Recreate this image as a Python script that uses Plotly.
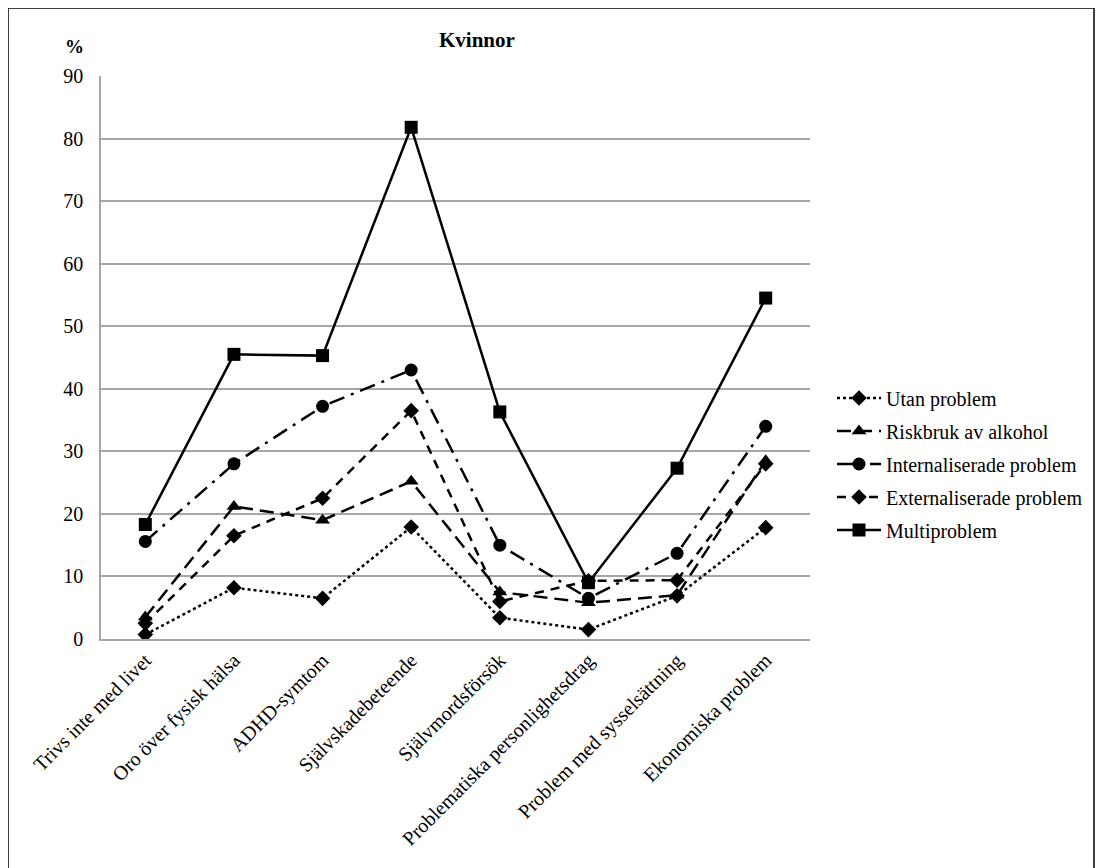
import plotly.graph_objects as go

categories = ["Trivs inte med livet", "Oro över fysisk hälsa", "ADHD-symtom",
              "Självskadebeteende", "Självmordsförsök", "Problematiska personlighetsdrag",
              "Problem med sysselsättning", "Ekonomiska problem"]

utan_problem = [0.7, 8.2, 6.5, 17.9, 3.4, 1.5, 6.9, 17.8]
riskbruk = [3.5, 21.2, 19.0, 25.2, 7.5, 5.8, 7.0, 28.5]
internaliserade = [15.6, 28.0, 37.2, 43.0, 15.0, 6.5, 13.7, 34.0]
externaliserade = [2.5, 16.5, 22.5, 36.5, 6.0, 9.3, 9.4, 28.0]
multiproblem = [18.3, 45.5, 45.3, 81.8, 36.3, 9.0, 27.3, 54.5]

series = [
    ("Utan problem", utan_problem, "dot", "diamond", 12),
    ("Riskbruk av alkohol", riskbruk, "14px,7px", "triangle-up", 13),
    ("Internaliserade problem", internaliserade, "16px,7px,3px,7px", "circle", 13),
    ("Externaliserade problem", externaliserade, "9px,7px", "diamond", 12),
    ("Multiproblem", multiproblem, "solid", "square", 13),
]

FONT = "'Liberation Serif', 'Times New Roman', serif"

OFF = 8  # browser body margin
W, H = 1097, 860
L, R, T, B = 101 - OFF, 810 - OFF, 76 - OFF, 639 - OFF
pw, ph = R - L, B - T

def px(x):
    return (x - OFF - L) / pw

def py(y):
    return (B - (y - OFF)) / ph

legend_rows = [398, 431, 464, 497, 530]

fig = go.Figure()
legend_layout = {}
for i, (name, vals, dash, sym, size) in enumerate(series):
    lname = "legend" if i == 0 else f"legend{i + 1}"
    fig.add_trace(go.Scatter(
        x=categories, y=vals, name=name, mode="lines+markers",
        line=dict(color="black", width=2.5, dash=dash),
        marker=dict(symbol=sym, size=size, color="black"),
        legend=lname,
    ))
    legend_layout[lname] = dict(
        x=px(832), y=py(legend_rows[i]), xanchor="left", yanchor="middle",
        font=dict(size=20, family=FONT), itemwidth=44,
        bgcolor="rgba(0,0,0,0)", borderwidth=0,
    )

fig.update_layout(
    width=W, height=H,
    margin=dict(l=L, r=W - R, t=T, b=H - B, autoexpand=False),
    paper_bgcolor="white", plot_bgcolor="white",
    font=dict(family=FONT, color="black", size=20),
    showlegend=True,
    xaxis=dict(showgrid=False, showline=True, linecolor="#a6a6a6", linewidth=1.5,
               tickangle=-45, ticks="", tickfont=dict(size=20, family=FONT),
               range=[-0.5, 7.5]),
    yaxis=dict(range=[0, 90], dtick=10, showgrid=True, gridcolor="#a6a6a6", gridwidth=1.5,
               showline=True, linecolor="#a6a6a6", linewidth=1.5, ticks="",
               tickfont=dict(size=20, family=FONT), zeroline=False, ticklabelstandoff=12),
    annotations=[
        dict(text="<b>Kvinnor</b>", x=px(477), y=py(40), xref="paper", yref="paper",
             xanchor="center", yanchor="middle",
             showarrow=False, font=dict(size=21, family=FONT)),
        dict(text="<b>%</b>", x=px(74), y=py(47), xref="paper", yref="paper",
             xanchor="center", yanchor="middle",
             showarrow=False, font=dict(size=19, family=FONT)),
    ],
    shapes=[
        dict(type="rect", xref="paper", yref="paper",
             x0=px(8), x1=px(1094), y0=py(880), y1=py(8),
             line=dict(color="black", width=1.5), fillcolor="rgba(0,0,0,0)", layer="above"),
    ],
    **legend_layout,
)

fig.write_html("out.html")
